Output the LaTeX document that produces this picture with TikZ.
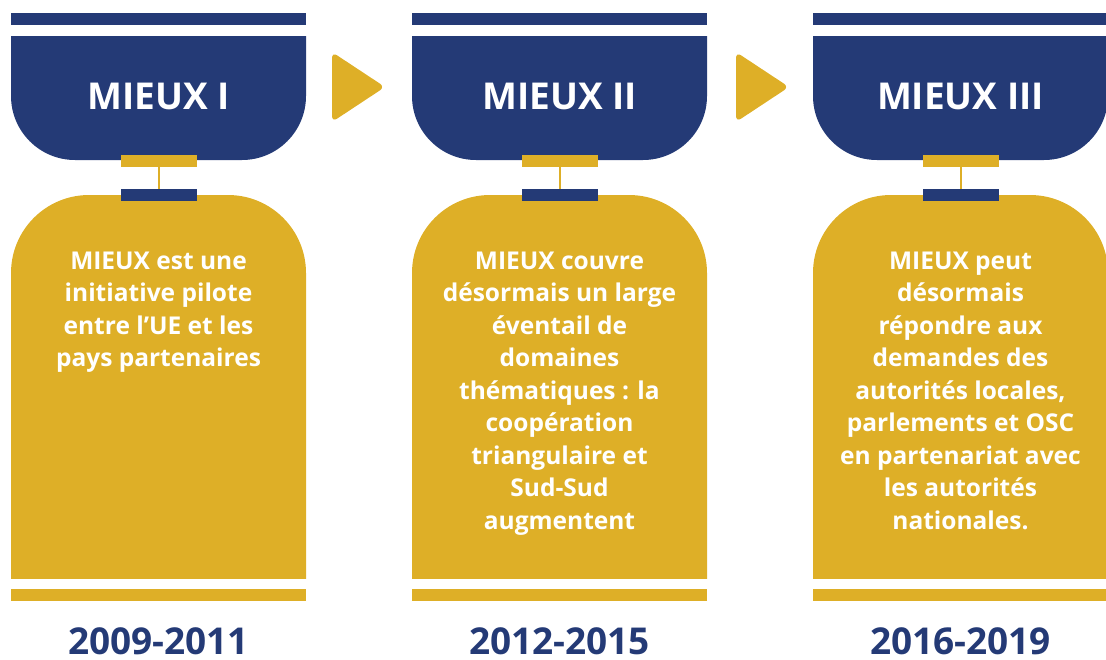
\documentclass[tikz,border=0pt]{standalone}
\usepackage{fontspec}
\setmainfont{Open Sans}
\definecolor{mblue}{HTML}{243A76}
\definecolor{mgold}{HTML}{DEAF27}
\begin{document}
\begin{tikzpicture}[x=1pt,y=-1pt,
  body/.style={text=white,align=center,font=\bfseries\fontsize{24.5}{32.5}\selectfont,anchor=base,inner sep=0},
  head/.style={text=white,font=\bfseries\fontsize{37}{40}\selectfont,anchor=base,inner sep=0},
  yeartxt/.style={text=mblue,font=\bfseries\fontsize{37}{40}\selectfont,anchor=base,inner sep=0},
  tab/.style={minimum width=76pt,minimum height=12pt,inner sep=0,outer sep=0},
  link/.style={draw=mgold,line width=1.3pt},
  arrowtri/.style={fill=mgold,rounded corners=6pt}]
\useasboundingbox (0,0) rectangle (1106,659);
\foreach \x/\n in {11/1,412/2,813/3}{
  % top bar
  \fill[mblue] (\x,13) rectangle (\x+295,25);
  % blue header shape
  \begin{scope}
    \clip (\x,36) rectangle (\x+295,170);
    \fill[mblue,rounded corners=64pt] (\x,-60) rectangle (\x+295,160);
  \end{scope}
  % gold body shape
  \begin{scope}
    \clip (\x,190) rectangle (\x+295,578);
    \fill[mgold,rounded corners=78pt] (\x,195) rectangle (\x+295,700);
  \end{scope}
  % bottom bar
  \fill[mgold] (\x,589) rectangle (\x+295,601);
  % tabs and link
  \node[tab,fill=mgold] (gt\n) at (\x+148,161) {};
  \node[tab,fill=mblue] (bt\n) at (\x+148,195) {};
  \draw[link] (gt\n.south) -- (bt\n.north);
}
\fill[arrowtri] (332,52) -- (385,87) -- (332,122) -- cycle;
\fill[arrowtri] (736,52) -- (789,87) -- (736,122) -- cycle;
\node[head] (h1) at (158.5,109) {MIEUX I};
\node[head] (h2) at (559.5,109) {MIEUX II};
\node[head] (h3) at (960.5,109) {MIEUX III};
\node[yeartxt] (y1) at (158.5,654) {2009-2011};
\node[yeartxt] (y2) at (559.5,654) {2012-2015};
\node[yeartxt] (y3) at (960.5,654) {2016-2019};
\node[body] (t1) at (158.5,366.5) {MIEUX est une\\initiative pilote\\entre l’UE et les\\pays partenaires};
\node[body] (t2) at (559.5,529) {MIEUX couvre\\désormais un large\\éventail de\\domaines\\thématiques : la\\coopération\\triangulaire et\\Sud-Sud\\augmentent};
\node[body] (t3) at (960.5,529) {MIEUX peut\\désormais\\répondre aux\\demandes des\\autorités locales,\\parlements et OSC\\en partenariat avec\\les autorités\\nationales.};
\end{tikzpicture}
\end{document}
